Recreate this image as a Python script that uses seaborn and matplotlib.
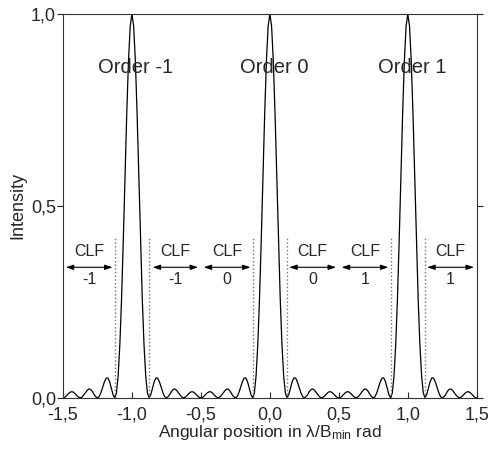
import numpy as np
import pandas as pd
import matplotlib
matplotlib.use("Agg")
import matplotlib.pyplot as plt
import seaborn as sns

# Intensity, one value every 0.0125 from -1.5 to 1.5
intensity = [
    0.000, 0.001, 0.005, 0.010, 0.014, 0.016, 0.015, 0.011, 0.006, 0.002,
    0.000, 0.002, 0.007, 0.013, 0.019, 0.023, 0.022, 0.017, 0.009, 0.003,
    0.000, 0.003, 0.013, 0.027, 0.041, 0.051, 0.052, 0.043, 0.026, 0.009,
    0.000, 0.012, 0.057, 0.139, 0.259, 0.411, 0.578, 0.740, 0.877, 0.968,
    1.000,
    0.968, 0.877, 0.740, 0.578, 0.411, 0.259, 0.139, 0.057, 0.012, 0.000,
    0.009, 0.026, 0.043, 0.052, 0.051, 0.041, 0.027, 0.013, 0.003, 0.000,
    0.003, 0.009, 0.017, 0.022, 0.023, 0.019, 0.013, 0.007, 0.002, 0.000,
    0.002, 0.006, 0.011, 0.015, 0.016, 0.014, 0.010, 0.005, 0.001, 0.000,
    0.001, 0.005, 0.010, 0.014, 0.016, 0.015, 0.011, 0.006, 0.002, 0.000,
    0.002, 0.007, 0.013, 0.019, 0.023, 0.022, 0.017, 0.009, 0.003, 0.000,
    0.003, 0.013, 0.027, 0.041, 0.051, 0.052, 0.043, 0.026, 0.009, 0.000,
    0.012, 0.057, 0.139, 0.259, 0.411, 0.578, 0.740, 0.877, 0.968, 1.000,
    0.968, 0.877, 0.740, 0.578, 0.411, 0.259, 0.139, 0.057, 0.012, 0.000,
    0.009, 0.026, 0.043, 0.052, 0.051, 0.041, 0.027, 0.013, 0.003, 0.000,
    0.003, 0.009, 0.017, 0.022, 0.023, 0.019, 0.013, 0.007, 0.002, 0.000,
    0.002, 0.006, 0.011, 0.015, 0.016, 0.014, 0.010, 0.005, 0.001, 0.000,
    0.001, 0.005, 0.010, 0.014, 0.016, 0.015, 0.011, 0.006, 0.002, 0.000,
    0.002, 0.007, 0.013, 0.019, 0.023, 0.022, 0.017, 0.009, 0.003, 0.000,
    0.003, 0.013, 0.027, 0.041, 0.051, 0.052, 0.043, 0.026, 0.009, 0.000,
    0.012, 0.057, 0.139, 0.259, 0.411, 0.578, 0.740, 0.877, 0.968, 1.000,
    0.968, 0.877, 0.740, 0.578, 0.411, 0.259, 0.139, 0.057, 0.012, 0.000,
    0.009, 0.026, 0.043, 0.052, 0.051, 0.041, 0.027, 0.013, 0.003, 0.000,
    0.003, 0.009, 0.017, 0.022, 0.023, 0.019, 0.013, 0.007, 0.002, 0.000,
    0.002, 0.006, 0.011, 0.015, 0.016, 0.014, 0.010, 0.005, 0.001, 0.000,
]
angle = np.linspace(-1.5, 1.5, len(intensity))

order_pos = [-1.0, 0.0, 1.0]
order_labels = ["Order -1", "Order 0", "Order 1"]

# first zeros around each order
zero_lines = [-1.125, -0.875, -0.125, 0.125, 0.875, 1.125]

# CLF arrows (start, end, label)
clf_start = [-1.48, -0.85, -0.48, 0.14, 0.52, 1.14]
clf_end = [-1.14, -0.52, -0.14, 0.48, 0.86, 1.48]
clf_labels = ["-1", "-1", "0", "0", "1", "1"]

x_ticks = [-1.5, -1.0, -0.5, 0.0, 0.5, 1.0, 1.5]
x_ticklabels = ["-1,5", "-1,0", "-0,5", "0,0", "0,5", "1,0", "1,5"]
y_ticks = [0.0, 0.5, 1.0]
y_ticklabels = ["0,0", "0,5", "1,0"]

df = pd.DataFrame({"angle": angle, "intensity": intensity})

sns.set_style("ticks")
plt.rcParams["font.family"] = ["Liberation Sans", "DejaVu Sans"]
plt.rcParams["mathtext.fontset"] = "custom"
plt.rcParams["mathtext.rm"] = "Liberation Sans"
plt.rcParams["mathtext.it"] = "Liberation Sans:italic"

fig = plt.figure(figsize=(4.88, 4.49), dpi=100)
ax = fig.add_axes([0.129, 0.114, 0.848, 0.855])

sns.lineplot(data=df, x="angle", y="intensity", color="black", linewidth=0.9, ax=ax)

for xz in zero_lines:
    ax.plot([xz, xz], [0, 0.42], color="0.45", linestyle=":", linewidth=1.0)

for xo, lab in zip(order_pos, order_labels):
    ax.text(xo + 0.03, 0.86, lab, ha="center", va="center", fontsize=14.5)

for x0, x1, lab in zip(clf_start, clf_end, clf_labels):
    ax.annotate("", xy=(x1, 0.34), xytext=(x0, 0.34),
                arrowprops=dict(arrowstyle="<|-|>,head_length=0.45,head_width=0.15",
                                color="black", lw=0.8, shrinkA=0, shrinkB=0))
    xm = (x0 + x1) / 2
    ax.text(xm, 0.38, "CLF", ha="center", va="center", fontsize=11.5)
    ax.text(xm, 0.308, lab, ha="center", va="center", fontsize=11.5)

ax.set_xlim(-1.5, 1.5)
ax.set_ylim(0, 1.0)
ax.set_xticks(x_ticks)
ax.set_xticklabels(x_ticklabels, fontsize=13)
ax.set_yticks(y_ticks)
ax.set_yticklabels(y_ticklabels, fontsize=13)
ax.set_xticks([-1.5, 1.5], minor=True)
ax.tick_params(axis="x", which="major", direction="in", length=4, width=0.8, pad=6)
ax.tick_params(axis="x", which="minor", direction="out", length=4, width=0.8)
ax.tick_params(axis="y", which="major", direction="out", length=4, width=0.8,
               right=True, pad=1)
for sp in ax.spines.values():
    sp.set_visible(True)
    sp.set_linewidth(0.8)
    sp.set_color("0.2")

ax.set_xlabel("Angular position in λ/B$_{\\rm min}$ rad", fontsize=12.5, labelpad=0)
ax.set_ylabel("Intensity", fontsize=13, labelpad=3)

fig.savefig("out.png", dpi=100)
